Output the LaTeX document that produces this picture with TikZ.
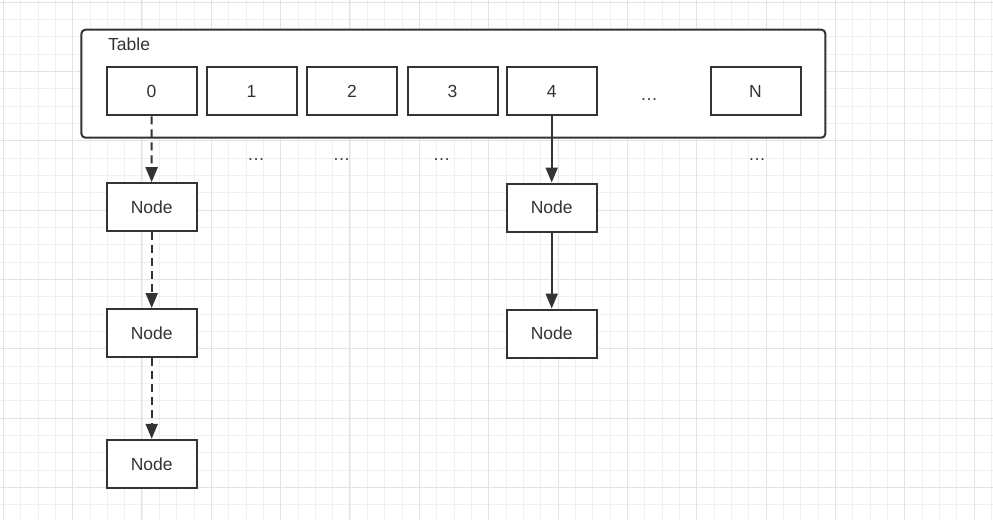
\documentclass[tikz,border=0pt]{standalone}
\usepackage{fontspec}
\setmainfont{Liberation Sans}
\usetikzlibrary{arrows.meta}
\definecolor{ink}{HTML}{333333}
\definecolor{gridminor}{HTML}{F0F0F0}
\definecolor{gridmajor}{HTML}{E3E3E3}
\begin{document}
\begin{tikzpicture}[x=1pt,y=-1pt,
  cell/.style={draw=ink, line width=2pt, fill=white, minimum width=90pt, minimum height=48pt, inner sep=0pt, font=\fontsize{17.5}{20}\selectfont, text=ink},
  tablebox/.style={draw=ink, line width=2pt, fill=white, rounded corners=4pt, minimum width=744pt, minimum height=108pt, inner sep=0pt},
  lbl/.style={font=\fontsize{17.5}{20}\selectfont, text=ink, inner sep=0pt},
  dots/.style={font=\fontsize{17.5}{20}\selectfont, text=ink, inner sep=0pt, anchor=base},
  link/.style={draw=ink, line width=2pt, -{Triangle[length=15pt,width=12pt]}},
  dlink/.style={link, dash pattern=on 8pt off 5pt}
]
\useasboundingbox (0,0) rectangle (993,520);
\fill[white] (0,0) rectangle (993,520);
% grid
\foreach \i in {0,...,57} {\draw[gridminor, line width=0.8pt] ({3.33+17.333*\i},0) -- ++(0,520);}
\foreach \i in {0,...,30} {\draw[gridminor, line width=0.8pt] (0,{2+17.333*\i}) -- ++(993,0);}
\foreach \i in {0,...,14} {\draw[gridmajor, line width=1pt] ({3.33+69.333*\i},0) -- ++(0,520);}
\foreach \i in {0,...,7} {\draw[gridmajor, line width=1pt] (0,{2+69.333*\i}) -- ++(993,0);}
% table
\node[tablebox] (table) at (453.4,83.7) {};
\node[lbl, anchor=west] (tlabel) at (108,44) {Table};
\node[cell] (c0) at (151.5,91.3) {0};
\node[cell] (c1) at (251.5,91.3) {1};
\node[cell] (c2) at (352,91.3) {2};
\node[cell] (c3) at (452.5,91.3) {3};
\node[cell] (c4) at (551.7,91.3) {4};
\node[dots] (d0) at (649,100) {…};
\node[cell] (cN) at (755.5,91.3) {N};
% dots below
\node[dots] (d1) at (256,160) {…};
\node[dots] (d2) at (341.5,160) {…};
\node[dots] (d3) at (441.5,160) {…};
\node[dots] (d4) at (757,160) {…};
% chains
\node[cell] (a1) at (151.7,207.2) {Node};
\node[cell] (a2) at (151.7,333) {Node};
\node[cell] (a3) at (151.7,463.8) {Node};
\node[cell] (b1) at (551.7,207.5) {Node};
\node[cell] (b2) at (551.7,333.5) {Node};
\draw[dlink] (c0) -- (a1);
\draw[dlink] (a1) -- (a2);
\draw[dlink] (a2) -- (a3);
\draw[link] (c4) -- (b1);
\draw[link] (b1) -- (b2);
\end{tikzpicture}
\end{document}
